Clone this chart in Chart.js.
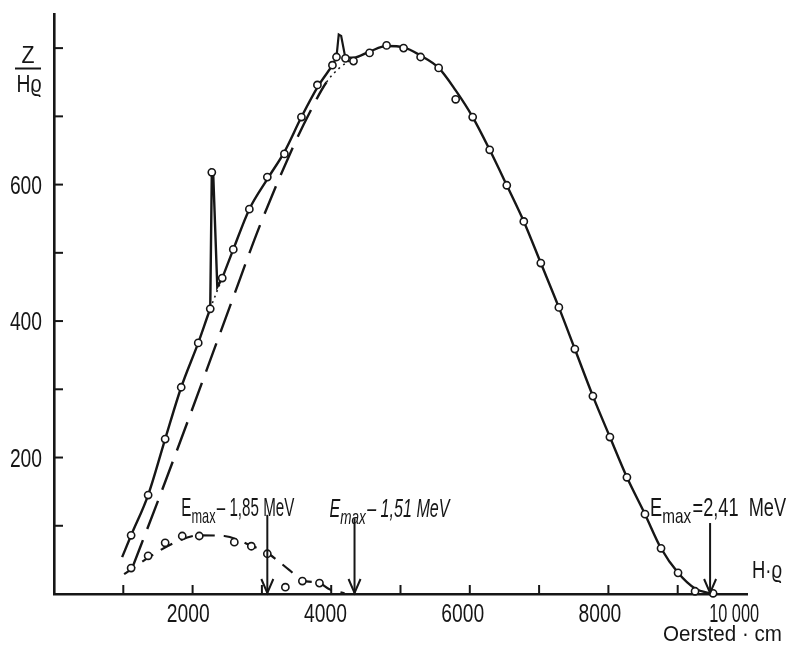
<!DOCTYPE html>
<html>
<head>
<meta charset="utf-8">
<script src="https://cdn.jsdelivr.net/npm/chart.js@4.4.1/dist/chart.umd.min.js"></script>
<style>
  body { margin: 0; background: #fff; }
  canvas { display: block; }
</style>
</head>
<body>
<canvas id="spectrum" width="790" height="651"></canvas>
<script>
// measured spectrum, solid curve (Hrho in Oersted.cm, Z/Hrho)
var curveX = [993, 1124, 1372, 1620, 1854, 2102, 2277, 2452, 2613, 2847, 3109, 3358, 3606, 3854, 4058, 4117, 4248, 4365, 4599, 4847, 5095, 5343, 5606, 5854, 6102, 6350, 6599, 6847, 7095, 7358, 7591, 7854, 8102, 8350, 8613, 8847, 9095, 9343, 9606];
var curveY = [54, 86, 145, 227, 303, 368, 418, 463, 505, 564, 608, 648, 699, 745, 775, 785, 786, 786, 795, 803, 801, 789, 771, 738, 699, 651, 599, 546, 485, 420, 359, 290, 230, 171, 117, 67, 31, 8, 0];

// measured points (circles) on the main curve
var pointsX = [1124, 1372, 1620, 1854, 2102, 2277, 2300, 2452, 2613, 2847, 3109, 3358, 3606, 3839, 4058, 4117, 4248, 4365, 4599, 4847, 5095, 5343, 5606, 5854, 6102, 6350, 6599, 6847, 7095, 7358, 7591, 7854, 8102, 8350, 8613, 8847, 9095, 9343, 9606];
var pointsY = [86, 145, 227, 303, 368, 418, 618, 463, 505, 564, 611, 645, 699, 746, 775, 787, 785, 781, 793, 804, 800, 787, 771, 725, 699, 651, 599, 546, 485, 420, 359, 290, 230, 171, 117, 67, 31, 4, 1];

// the two line peaks
var peak1X = [2277, 2300, 2321, 2380, 2452];
var peak1Y = [418, 618, 614, 450, 463];
var peak2X = [4117, 4150, 4185, 4248];
var peak2Y = [787, 820, 818, 785];

// long dashed curve
var dashX = [1139, 1533, 1971, 2599, 2993, 3474, 3723, 3971, 4161, 4365];
var dashY = [38, 141, 259, 431, 538, 653, 705, 750, 771, 785];

// low component, dashed curve and its points
var lowX = [1022, 1387, 1752, 2117, 2482, 2847, 3109, 3431, 3620, 3869, 4015, 4234];
var lowY = [29, 54, 75, 86, 85, 72, 60, 35, 20, 16, 7, 1];
var lowPtsX = [1124, 1372, 1620, 1869, 2117, 2628, 2876, 3109, 3372, 3620, 3869];
var lowPtsY = [38, 56, 75, 85, 85, 76, 70, 59, 10, 19, 16];

// end point arrows
var emaxX = [3109, 4380, 9562];
var emaxTop = [116, 111, 104];
var emaxText = ['\u2013 1,85 MeV', '\u2013 1,51 MeV', '=2,41  MeV'];

// tick labels
var xLabelVals = [2000, 4000, 6000, 8000, 10000];
var xLabelText = ['2000', '4000', '6000', '8000', '10 000'];
var yLabelVals = [200, 400, 600];

var ink = '#161616';
var fam = '"Liberation Sans", Arial, sans-serif';
var narrow = 0.74;

function pts(xs, ys) {
    return xs.map(function(x, i) { return {x: x, y: ys[i]}; });
}

var dotted = [[2277, 2452], [4117, 4248]];
function inDotted(ctx) {
    var x = ctx.p0.parsed.x;
    return dotted.some(function(r) { return x >= r[0] && x < r[1]; });
}

// draw condensed text; width given -> squeeze to that width
function txt(ctx, s, x, y, font, align, width) {
    ctx.font = font;
    var w = ctx.measureText(s).width;
    var sx = width ? width / w : narrow;
    var dx = align === 'center' ? -w * sx / 2 : align === 'right' ? -w * sx : 0;
    ctx.save();
    ctx.translate(x + dx, y);
    ctx.scale(sx, 1);
    ctx.textAlign = 'left';
    ctx.fillText(s, 0, 0);
    ctx.restore();
}

function drawEmax(ctx, x, y, rest, italic, width) {
    var st = italic ? 'italic ' : '';
    var big = st + '25px ' + fam, small = st + '21px ' + fam;
    ctx.font = big; var wE = ctx.measureText('E').width;
    var wR = ctx.measureText(rest).width;
    ctx.font = small; var wM = ctx.measureText('max').width;
    var sx = width / (wE + wM + 2 + wR);
    ctx.save();
    ctx.translate(x, y);
    ctx.scale(sx, 1);
    ctx.textAlign = 'left';
    ctx.font = big; ctx.fillText('E', 0, 0);
    ctx.font = small; ctx.fillText('max', wE, 7);
    ctx.font = big; ctx.fillText(rest, wE + wM + 2, 0);
    ctx.restore();
}

var decor = {
    id: 'decor',
    afterDraw: function(chart) {
        var ctx = chart.ctx;
        var xs = chart.scales.x, ys = chart.scales.y;
        var left = chart.chartArea.left, bottom = chart.chartArea.bottom;
        ctx.save();
        ctx.strokeStyle = ink;
        ctx.fillStyle = ink;
        ctx.lineWidth = 2;
        ctx.lineCap = 'butt';
        ctx.textBaseline = 'alphabetic';

        // tick marks inside the axes
        ys.ticks.forEach(function(t) {
            if (t.value <= 0 || t.value > 800) return;
            var py = ys.getPixelForValue(t.value);
            ctx.beginPath(); ctx.moveTo(left, py); ctx.lineTo(left + 9, py); ctx.stroke();
        });
        xs.ticks.forEach(function(t) {
            if (t.value <= 0 || t.value > 10000) return;
            var px = xs.getPixelForValue(t.value);
            ctx.beginPath(); ctx.moveTo(px, bottom); ctx.lineTo(px, bottom - 9); ctx.stroke();
        });

        // tick labels
        var tickFont = '26px ' + fam;
        yLabelVals.forEach(function(v) {
            txt(ctx, String(v), left - 12, ys.getPixelForValue(v) + 9, tickFont, 'right');
        });
        xLabelVals.forEach(function(v, i) {
            var w = v === 10000 ? 50 : undefined;
            txt(ctx, xLabelText[i], xs.getPixelForValue(v) - (v === 10000 ? 6 : 3), bottom + 28, tickFont, 'center', w);
        });

        // arrows
        emaxX.forEach(function(v, i) {
            var px = xs.getPixelForValue(v);
            var top = ys.getPixelForValue(emaxTop[i]);
            ctx.beginPath(); ctx.moveTo(px, top); ctx.lineTo(px, bottom - 1); ctx.stroke();
            ctx.beginPath();
            ctx.moveTo(px - 6, bottom - 15); ctx.lineTo(px, bottom - 1); ctx.lineTo(px + 6, bottom - 15);
            ctx.stroke();
        });

        var a = xs.getPixelForValue(emaxX[0]);
        drawEmax(ctx, a - 86, 516, emaxText[0], false, 113);
        a = xs.getPixelForValue(emaxX[1]);
        drawEmax(ctx, a - 25, 517, emaxText[1], true, 120);
        a = xs.getPixelForValue(emaxX[2]);
        drawEmax(ctx, a - 60, 516, emaxText[2], false, 136);

        // axis titles
        txt(ctx, 'Z', 28, 63, '23px ' + fam, 'center', 13);
        ctx.beginPath(); ctx.moveTo(15, 68.5); ctx.lineTo(41, 68.5); ctx.stroke();
        txt(ctx, 'H\u03f1', 29, 92, '23px ' + fam, 'center', 25);
        txt(ctx, 'H\u00b7\u03f1', 752, 578, '23px ' + fam, 'left', 30);
        txt(ctx, 'Oersted \u00b7 cm', 663, 641, '22px ' + fam, 'left', 119);
        ctx.restore();
    }
};

var chart = new Chart(document.getElementById('spectrum'), {
    type: 'line',
    data: {
        datasets: [{
            label: 'points',
            data: pts(pointsX, pointsY),
            showLine: false,
            pointRadius: 3.6,
            pointBorderWidth: 1.6,
            pointBackgroundColor: '#fff',
            pointBorderColor: ink,
            order: 0
        }, {
            label: 'low points',
            data: pts(lowPtsX, lowPtsY),
            showLine: false,
            pointRadius: 3.6,
            pointBorderWidth: 1.6,
            pointBackgroundColor: '#fff',
            pointBorderColor: ink,
            order: 0
        }, {
            label: 'curve',
            data: pts(curveX, curveY),
            borderColor: ink,
            borderWidth: 2.4,
            pointRadius: 0,
            cubicInterpolationMode: 'monotone',
            segment: {
                borderDash: function(c) { return inDotted(c) ? [2, 4] : undefined; },
                borderWidth: function(c) { return inDotted(c) ? 1.5 : undefined; }
            },
            order: 2
        }, {
            label: 'peak 1',
            data: pts(peak1X, peak1Y),
            borderColor: ink,
            borderWidth: 2.4,
            pointRadius: 0,
            tension: 0,
            order: 2
        }, {
            label: 'peak 2',
            data: pts(peak2X, peak2Y),
            borderColor: ink,
            borderWidth: 2.2,
            pointRadius: 0,
            tension: 0,
            order: 2
        }, {
            label: 'dashed',
            data: pts(dashX, dashY),
            borderColor: ink,
            borderWidth: 2.4,
            borderDash: [30, 12],
            pointRadius: 0,
            cubicInterpolationMode: 'monotone',
            segment: {
                borderDash: function(c) { return c.p0.parsed.x >= 3971 ? [2, 4] : undefined; },
                borderWidth: function(c) { return c.p0.parsed.x >= 3971 ? 1.5 : undefined; }
            },
            order: 3
        }, {
            label: 'low',
            data: pts(lowX, lowY),
            borderColor: ink,
            borderWidth: 2.2,
            borderDash: [13, 9],
            pointRadius: 0,
            cubicInterpolationMode: 'monotone',
            order: 3
        }]
    },
    plugins: [decor],
    options: {
        responsive: false,
        devicePixelRatio: 1,
        animation: false,
        clip: false,
        layout: { padding: { left: 0, right: 43, top: 14, bottom: 0 } },
        plugins: {
            legend: { display: false },
            tooltip: { enabled: false }
        },
        scales: {
            x: {
                type: 'linear',
                min: 0,
                max: 10100,
                afterFit: function(s) { s.height = 57; },
                grid: { display: false, drawTicks: false },
                border: { display: true, color: ink, width: 2.6 },
                ticks: { display: false, stepSize: 1000 }
            },
            y: {
                min: 0,
                max: 850,
                afterFit: function(s) { s.width = 54; },
                grid: { display: false, drawTicks: false },
                border: { display: true, color: ink, width: 2.6 },
                ticks: { display: false, stepSize: 100 }
            }
        }
    }
});
</script>
</body>
</html>
